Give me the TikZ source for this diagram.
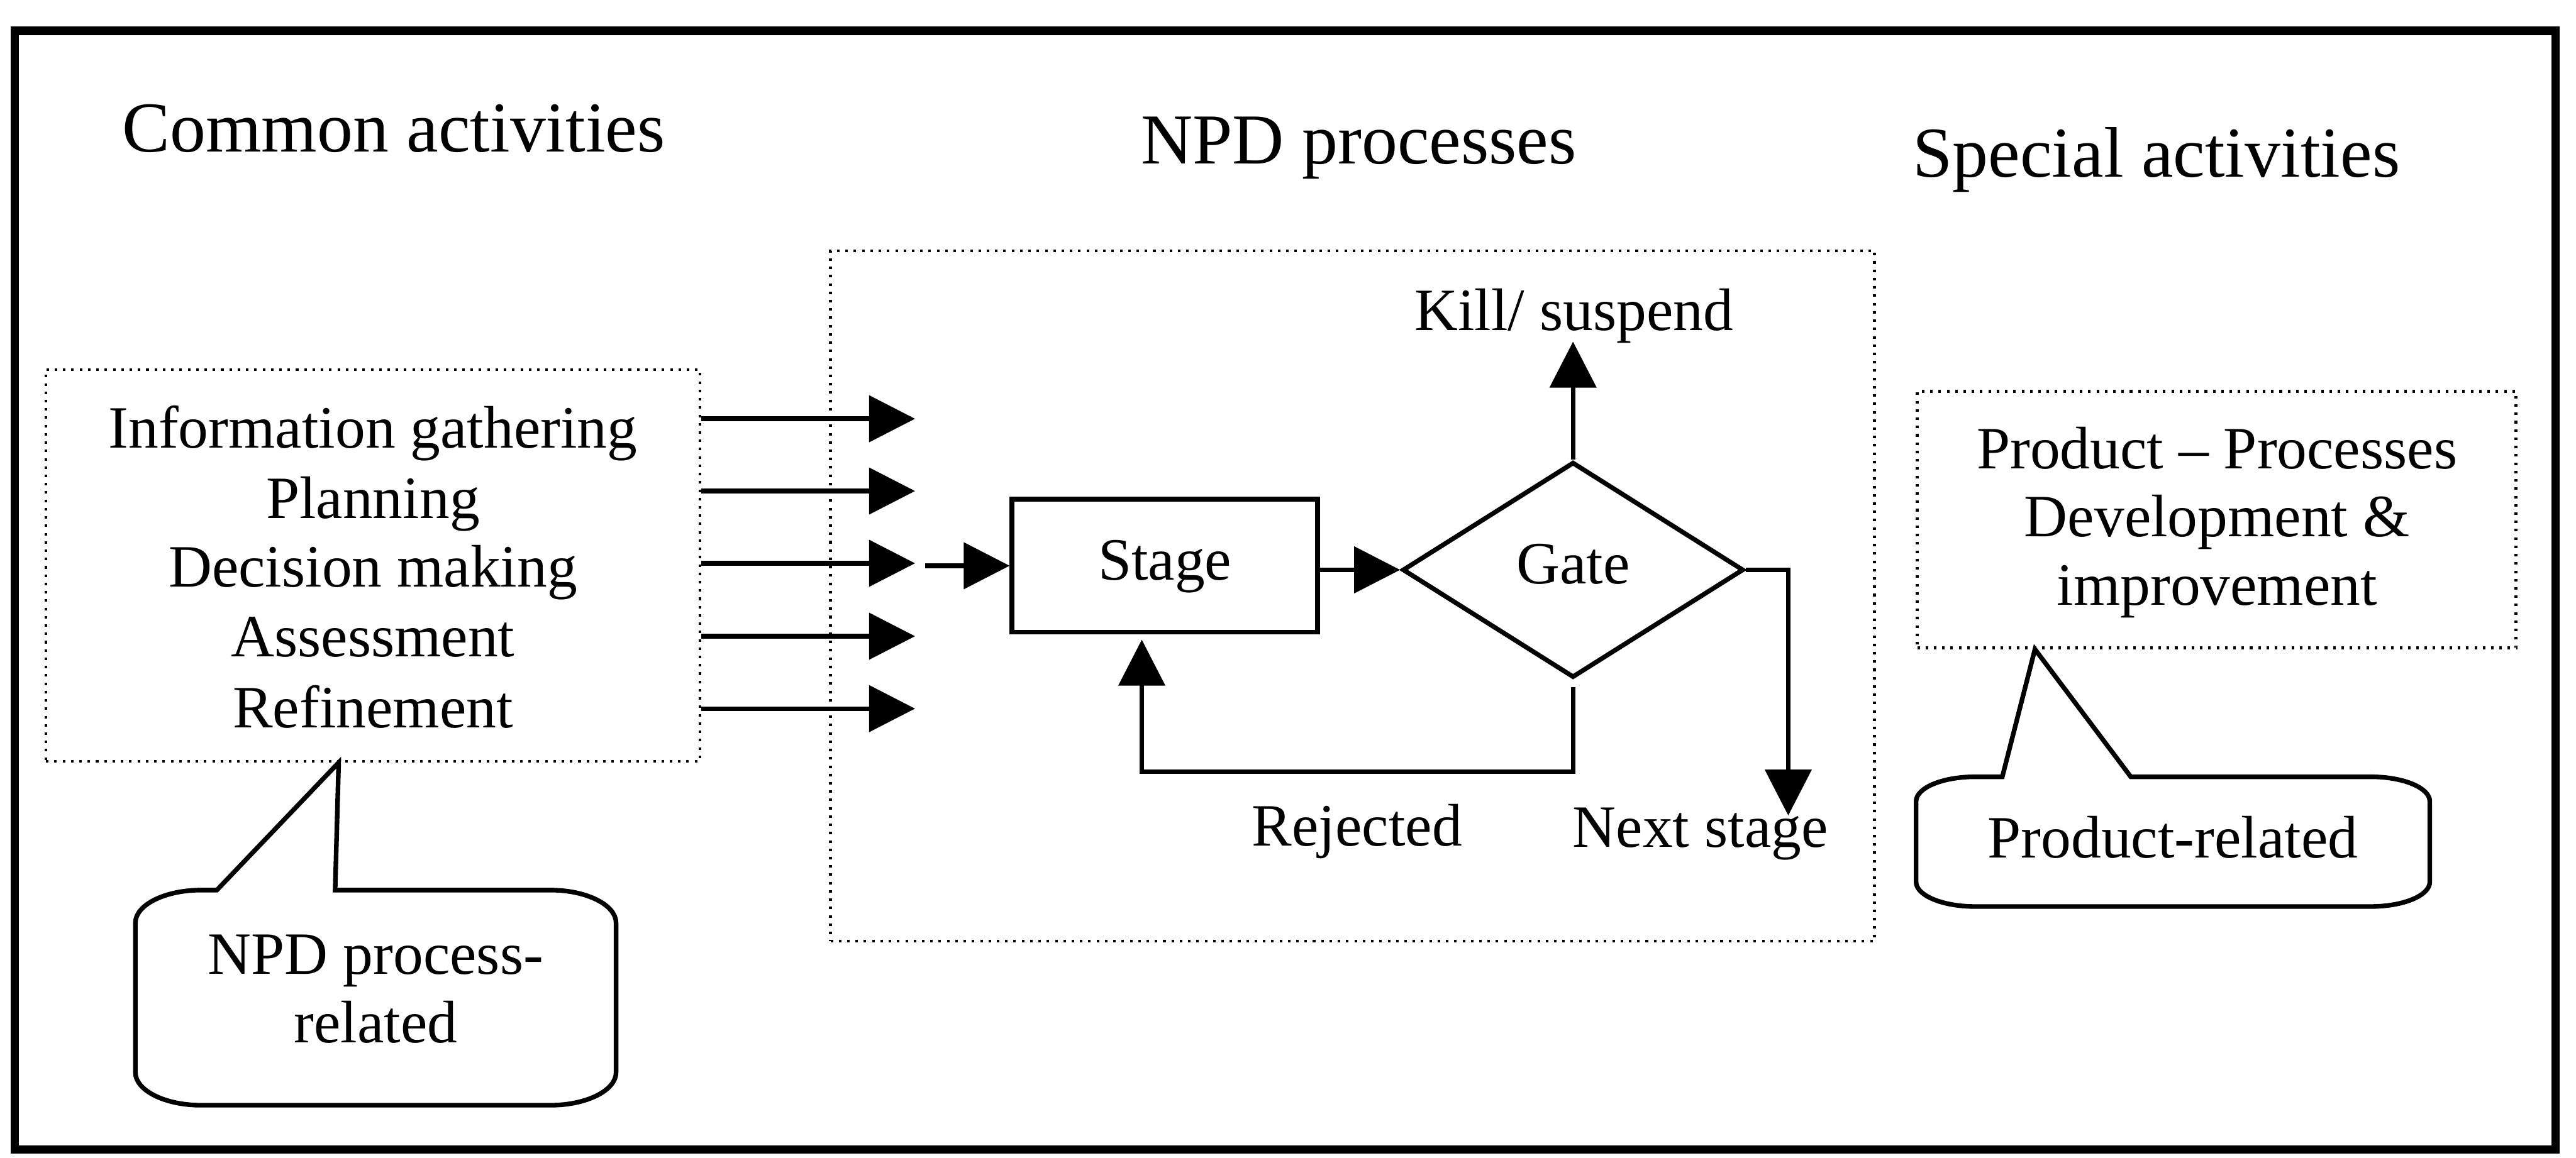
\documentclass[tikz,border=0pt]{standalone}
\usepackage{fontspec}
\setmainfont{Liberation Serif}
\usetikzlibrary{arrows.meta,shapes.geometric,fit,calc}

\begin{document}
\begin{tikzpicture}[x=0.025cm,y=-0.025cm,
  body/.style={font=\fontsize{26}{30}\selectfont, inner sep=0pt, anchor=base},
  heading/.style={font=\fontsize{31}{36}\selectfont, inner sep=0pt, anchor=base},
  dotbox/.style={draw, line width=1.2pt, dash pattern=on 1.1pt off 2.5pt, inner sep=0pt},
  wire/.style={line width=2pt},
  arr/.style={wire, -{Triangle[length=0.7cm,width=0.7cm]}},
  flowbox/.style={draw, wire, inner sep=0pt, font=\fontsize{26}{30}\selectfont,
    text height=17.8pt, text depth=5.7pt},
  callout/.style={wire, line join=miter},
  frameline/.style={line width=3.7pt},
]
% page
\fill[white] (0,0) rectangle (1568,705);
\useasboundingbox (0,0) rectangle (1568,705);

% outer frame
\draw[frameline] (9,18.8) rectangle (1555.5,700);

% column headings
\node[heading] (hcommon)  at (239.6,92.4)  {Common activities};
\node[heading] (hnpd)     at (827,99.6)    {NPD processes};
\node[heading] (hspecial) at (1312.6,107.8) {Special activities};

% common activities
\node[dotbox, fit={(28,225) (426,463.5)}] (common) {};
\node[body] (c1) at (227,272.7) {Information gathering};
\node[body] (c2) at (227,315.6) {Planning};
\node[body] (c3) at (227,357.5) {Decision making};
\node[body] (c4) at (227,400)   {Assessment};
\node[body] (c5) at (227,443)   {Refinement};

% NPD process area
\node[dotbox, fit={(505.5,152.7) (1141,573)}] (npd) {};

% inputs from the common activities
\coordinate (t1) at (557,255);
\coordinate (t2) at (557,299);
\coordinate (t3) at (557,343);
\coordinate (t4) at (557,387.4);
\coordinate (t5) at (557,431.5);
\foreach \i in {1,...,5}
  \draw[arr] (common.east |- t\i) -- (t\i);

% stage and gate
\node[flowbox, minimum width=4.65cm, minimum height=2.025cm] (stage) at (709,344.5) {Stage};
\node[flowbox, diamond, minimum width=5.19cm, minimum height=3.28cm] (gate) at (957.5,347) {Gate};

\coordinate (feed) at (563,344.5);
\draw[arr] (feed) -- (stage.west);
\draw[arr] (stage.east |- gate.west) -- (gate.west);

% kill / suspend
\coordinate (killtip) at (957.5,208);
\draw[arr] (gate.north) -- (killtip);
\node[body] (kill) at (958,201) {Kill/ suspend};

% next stage
\coordinate (nexttip) at (1088.5,496.6);
\draw[arr] (gate.east) -| (nexttip);
\node[body] (next) at (1035,516) {Next stage};

% rejected loop back to the stage
\coordinate (rejlow) at (957.5,470);
\coordinate (rejtip) at (695,389.5);
\draw[arr] ($(gate.south)+(0,4.5)$) -- (rejlow) -| (rejtip);
\node[body] (rej) at (826,515) {Rejected};

% special activities
\node[dotbox, fit={(1167,238.3) (1531.5,394.5)}] (special) {};
\node[body] (s1) at (1349.5,285.4) {Product -- Processes};
\node[body] (s2) at (1349.5,326.8) {Development \&};
\node[body] (s3) at (1349.5,368.3) {improvement};

% callout: NPD process-related
\coordinate (capl) at ($(common.south west)+(179,0)$);
\draw[callout] (204,542) -- (335,542)
  .. controls (357,542) and (375,551) .. (375,562) -- (375,653)
  .. controls (375,664) and (357,673) .. (335,673) -- (122.4,673)
  .. controls (100.4,673) and (82.4,664) .. (82.4,653) -- (82.4,562)
  .. controls (82.4,551) and (100.4,542) .. (122.4,542) -- (132,542)
  -- (capl) -- cycle;
\node[body] (k1) at (228.7,593.3) {NPD process-};
\node[body] (k2) at (228.7,635)   {related};

% callout: product-related
\coordinate (capr) at ($(special.south west)+(72.5,0)$);
\draw[callout] (1297,473) -- (1443,473)
  .. controls (1462.9,473) and (1479,479.7) .. (1479,488) -- (1479,537)
  .. controls (1479,545.3) and (1462.9,552) .. (1443,552) -- (1202.3,552)
  .. controls (1182.4,552) and (1166.3,545.3) .. (1166.3,537) -- (1166.3,488)
  .. controls (1166.3,479.7) and (1182.4,473) .. (1202.3,473) -- (1218.8,473)
  -- (capr) -- cycle;
\node[body] (p1) at (1322.6,522.4) {Product-related};
\end{tikzpicture}
\end{document}
